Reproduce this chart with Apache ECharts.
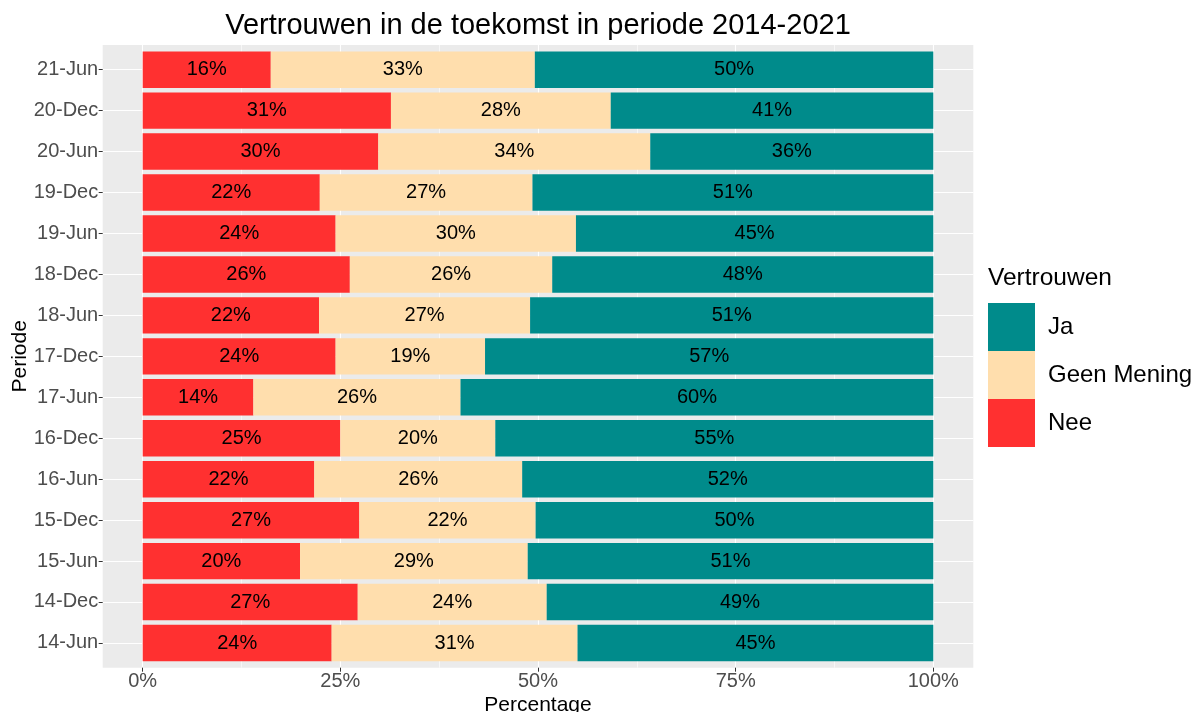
<!DOCTYPE html>
<html>
<head>
<meta charset="utf-8">
<title>Vertrouwen in de toekomst</title>
<script src="https://cdn.jsdelivr.net/npm/echarts@6/dist/echarts.min.js"></script>
<style>
	html,body{margin:0;padding:0;background:#fff;}
	#barChart{width:1195px;height:712px;}
</style>
</head>
<body>
<div id="barChart"></div>
<script>
// periodes, van onder naar boven
var periodes = ['14-Jun','14-Dec','15-Jun','15-Dec','16-Jun','16-Dec','17-Jun','17-Dec','18-Jun','18-Dec','19-Jun','19-Dec','20-Jun','20-Dec','21-Jun'];
var nee = [23.9,27.2,19.9,27.4,21.7,25.0,14.0,24.4,22.3,26.2,24.4,22.4,29.8,31.4,16.2];
var geenMening = [31.1,23.9,28.8,22.3,26.3,19.6,26.2,18.9,26.7,25.6,30.4,26.9,34.4,27.8,33.4];
var ja = [45.0,48.9,51.3,50.3,52.0,55.4,59.8,56.7,51.0,48.2,45.2,50.7,35.8,40.8,50.4];
var xTicks = [0,25,50,75,100];

var font = 'Liberation Sans, Arial, sans-serif';

function barSerie(name, data, color){
	return {
		name: name,
		type: 'bar',
		stack: 'totaal',
		xAxisIndex: 0,
		yAxisIndex: 0,
		barWidth: '89%',
		itemStyle: { color: color },
		label: {
			show: true,
			position: 'inside',
			color: '#000',
			fontSize: 20,
			fontFamily: font,
			textBorderWidth: 0,
			formatter: function(p){ return Math.round(p.value) + '%'; }
		},
		emphasis: { disabled: true },
		data: data
	};
}

//panel: 102.7..973.3 x 45..667.7, data 0..100% = 142.7..933.3
var chartOption = {
	animation: false,
	textStyle: { fontFamily: font },
	title: [{
		text: 'Vertrouwen in de toekomst in periode 2014-2021',
		left: 538,
		textAlign: 'center',
		top: 11,
		padding: 0,
		textStyle: { fontSize: 29, fontWeight: 'normal', color: '#000', fontFamily: font }
	},{
		text: 'Vertrouwen',
		left: 988,
		top: 266,
		padding: 0,
		textStyle: { fontSize: 24.5, fontWeight: 'normal', color: '#000', fontFamily: font }
	}],
	legend: {
		orient: 'vertical',
		left: 988,
		top: 303,
		padding: 0,
		itemWidth: 47,
		itemHeight: 48,
		itemGap: 0,
		icon: 'rect',
		selectedMode: false,
		data: ['Ja','Geen Mening','Nee'],
		textStyle: { fontSize: 24, color: '#000', fontFamily: font, padding: [0,0,0,8] }
	},
	grid: [
		// bars
		{ left: 142.7, top: 49.2, width: 790.6, height: 614.3, outerBoundsMode: 'none' },
		// verticale lijnen + x labels
		{ left: 142.7, top: 45, width: 790.6, height: 622.7, outerBoundsMode: 'none' },
		// horizontale lijnen + y labels
		{ left: 102.7, top: 69.7, width: 870.6, height: 573.2, outerBoundsMode: 'none' },
		// achtergrond
		{ left: 102.7, top: 45, width: 870.6, height: 622.7, show: true, backgroundColor: '#EBEBEB', borderWidth: 0, outerBoundsMode: 'none' }
	],
	xAxis: [
		{ gridIndex: 0, type: 'value', min: 0, max: 100, show: false },
		{
			gridIndex: 1, type: 'value', min: 0, max: 100, interval: 25,
			axisLine: { show: false },
			axisTick: { show: true, length: 4, lineStyle: { color: '#333', width: 1 } },
			axisLabel: {
				margin: 4, fontSize: 20, color: '#4D4D4D', fontFamily: font,
				customValues: xTicks,
				formatter: '{value}%'
			},
			splitLine: { show: true, lineStyle: { color: '#fff', width: 1.1 } },
			minorTick: { show: false, splitNumber: 2 },
			minorSplitLine: { show: true, lineStyle: { color: '#fff', width: 0.6 } },
			name: 'Percentage',
			nameLocation: 'middle',
			nameMoveOverlap: false,
			nameGap: 27,
			nameTextStyle: { fontSize: 21, color: '#000', fontFamily: font }
		},
		{ gridIndex: 2, type: 'value', min: 0, max: 100, show: false },
		{ gridIndex: 3, type: 'value', min: 0, max: 100, show: false }
	],
	yAxis: [
		{ gridIndex: 0, type: 'category', data: periodes, show: false },
		{ gridIndex: 1, type: 'value', min: 0, max: 100, show: false },
		{
			gridIndex: 2, type: 'category', data: periodes, boundaryGap: false,
			axisLine: { show: false },
			axisTick: { show: true, length: 4, lineStyle: { color: '#333', width: 1 } },
			axisLabel: { margin: 4.5, fontSize: 20, color: '#4D4D4D', fontFamily: font, interval: 0 },
			splitLine: { show: true, interval: 0, lineStyle: { color: '#fff', width: 1.1 } },
			name: 'Periode',
			nameLocation: 'middle',
			nameMoveOverlap: false,
			nameGap: 72,
			nameTextStyle: { fontSize: 21, color: '#000', fontFamily: font }
		},
		{ gridIndex: 3, type: 'value', min: 0, max: 100, show: false }
	],
	series: [
		barSerie('Nee', nee, '#FF3030'),
		barSerie('Geen Mening', geenMening, '#FFDEAD'),
		barSerie('Ja', ja, '#008B8B')
	]
};

var myChart = echarts.init(document.getElementById('barChart'));
myChart.setOption(chartOption);
</script>
</body>
</html>
